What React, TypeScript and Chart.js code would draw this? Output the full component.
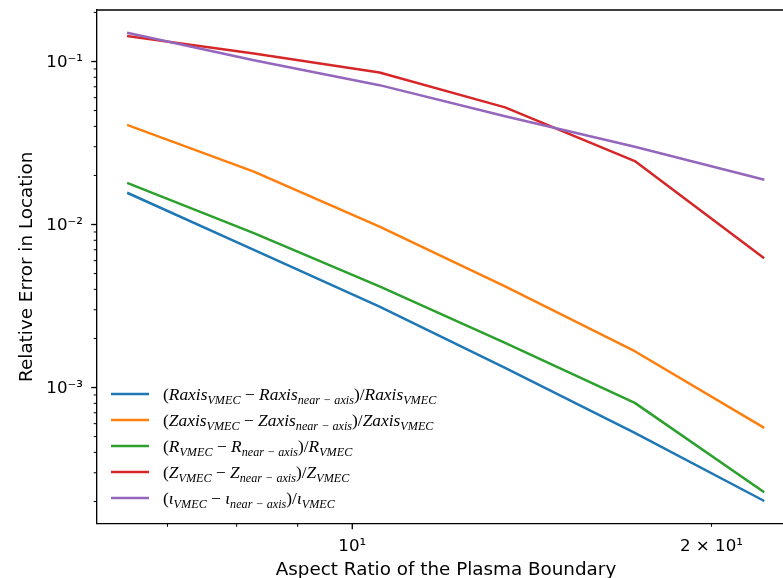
import React, { useEffect, useRef } from 'react';
import { Chart, registerables } from 'chart.js';
Chart.register(...registerables);

// ---------- data ----------
const aspectRatios = [6.49, 8.27, 10.54, 13.43, 17.25, 22.1];
const raxisErr = [0.01555, 0.00699, 0.00314, 0.00132, 0.000527, 0.000203];
const zaxisErr = [0.0406, 0.0211, 0.00971, 0.00417, 0.00167, 0.000571];
const rErr = [0.0179, 0.00885, 0.00417, 0.00188, 0.000805, 0.00023];
const zErr = [0.1429, 0.1119, 0.0856, 0.0523, 0.0245, 0.00627];
const iotaErr = [0.1496, 0.1018, 0.0716, 0.0462, 0.03, 0.0189];

const seriesValues = [raxisErr, zaxisErr, rErr, zErr, iotaErr];
const seriesColors = ['#1f77b4', '#ff7f0e', '#2ca02c', '#d62728', '#9467bd'];

// legend labels: [text, kind] kind: n = upright, i = italic, s = subscript
type Seg = [string, 'n' | 'i' | 's'];
const legendLabels: Seg[][] = [
  [['(', 'n'], ['Raxis', 'i'], ['VMEC', 's'], [' − ', 'n'], ['Raxis', 'i'], ['near − axis', 's'], [')/', 'n'], ['Raxis', 'i'], ['VMEC', 's']],
  [['(', 'n'], ['Zaxis', 'i'], ['VMEC', 's'], [' − ', 'n'], ['Zaxis', 'i'], ['near − axis', 's'], [')/', 'n'], ['Zaxis', 'i'], ['VMEC', 's']],
  [['(', 'n'], ['R', 'i'], ['VMEC', 's'], [' − ', 'n'], ['R', 'i'], ['near − axis', 's'], [')/', 'n'], ['R', 'i'], ['VMEC', 's']],
  [['(', 'n'], ['Z', 'i'], ['VMEC', 's'], [' − ', 'n'], ['Z', 'i'], ['near − axis', 's'], [')/', 'n'], ['Z', 'i'], ['VMEC', 's']],
  [['(', 'n'], ['ι', 'i'], ['VMEC', 's'], [' − ', 'n'], ['ι', 'i'], ['near − axis', 's'], [')/', 'n'], ['ι', 'i'], ['VMEC', 's']],
];

const xAxisTitle = 'Aspect Ratio of the Plasma Boundary';
const yAxisTitle = 'Relative Error in Location';

const xTickValues = [10, 20];
const xTickLabels = ['10¹', '2 × 10¹'];
const xMajorTicks = [10];
const yTickValues = [0.001, 0.01, 0.1];
const yTickLabels = ['10⁻³', '10⁻²', '10⁻¹'];

const X_MIN = 6.11;
const X_MAX = 23.5;
const Y_MIN = 1.465e-4;
const Y_MAX = 0.207;

const minorMultipliers = [2, 3, 4, 5, 6, 7, 8, 9];
const decades = [-4, -3, -2, -1, 0, 1];

const TICK_FONT = 16.67;
const LABEL_FONT = 18.33;
const LEGEND_FONT = 17.4;

const axisDecor = {
  id: 'axisDecor',
  afterDraw(chart: any) {
    const { ctx, chartArea, scales } = chart;
    const xs = scales.x;
    const ys = scales.y;
    ctx.save();
    ctx.strokeStyle = '#000';
    ctx.lineWidth = 1.33;
    ctx.beginPath();
    ctx.moveTo(chartArea.left, chartArea.top);
    ctx.lineTo(chartArea.right, chartArea.top);
    ctx.lineTo(chartArea.right, chartArea.bottom);
    ctx.stroke();

    const drawY = (v: number, len: number, w: number) => {
      if (v < Y_MIN || v > Y_MAX) return;
      const py = ys.getPixelForValue(v);
      ctx.lineWidth = w;
      ctx.beginPath();
      ctx.moveTo(chartArea.left - len, py);
      ctx.lineTo(chartArea.left, py);
      ctx.stroke();
    };
    const drawX = (v: number, len: number, w: number) => {
      if (v < X_MIN || v > X_MAX) return;
      const px = xs.getPixelForValue(v);
      ctx.lineWidth = w;
      ctx.beginPath();
      ctx.moveTo(px, chartArea.bottom);
      ctx.lineTo(px, chartArea.bottom + len);
      ctx.stroke();
    };
    for (const d of decades) {
      const base = Math.pow(10, d);
      drawY(base, 5.8, 1.33);
      drawX(base, 5.8, 1.33);
      for (const m of minorMultipliers) {
        drawY(m * base, 3.3, 1);
        drawX(m * base, 3.3, 1);
      }
    }
    ctx.restore();
  },
};

const richLegend = {
  id: 'richLegend',
  afterDatasetsDraw(chart: any) {
    const { ctx, chartArea } = chart;
    ctx.save();
    const x0 = chartArea.left + 14;
    const lineLen = 38;
    const textX = chartArea.left + 66;
    const firstY = chartArea.bottom - 129.5;
    const rowGap = 26;
    legendLabels.forEach((segs, i) => {
      const cy = firstY + i * rowGap;
      ctx.strokeStyle = seriesColors[i];
      ctx.lineWidth = 2.5;
      ctx.lineCap = 'butt';
      ctx.beginPath();
      ctx.moveTo(x0, cy);
      ctx.lineTo(x0 + lineLen, cy);
      ctx.stroke();
      let x = textX;
      const baseY = cy + 6;
      ctx.fillStyle = '#000';
      ctx.textBaseline = 'alphabetic';
      ctx.textAlign = 'left';
      for (const [t, kind] of segs) {
        let font: string;
        let y = baseY;
        if (kind === 's') {
          font = `italic ${LEGEND_FONT * 0.7}px "Liberation Serif"`;
          y = baseY + 3.5;
        } else if (kind === 'i') {
          font = `italic ${LEGEND_FONT}px "Liberation Serif"`;
        } else {
          font = `${LEGEND_FONT}px "Liberation Serif"`;
        }
        ctx.font = font;
        ctx.fillText(t, x, y);
        x += ctx.measureText(t).width;
      }
    });
    ctx.restore();
  },
};

export default function App() {
  const ref = useRef<HTMLCanvasElement | null>(null);
  useEffect(() => {
    document.body.style.margin = '0';
    document.body.style.overflow = 'hidden';
    const canvas = ref.current;
    if (!canvas) return;
    const datasets = seriesValues.map((vals, i) => ({
      label: `series ${i}`,
      data: aspectRatios.map((x, j) => ({ x, y: vals[j] })),
      borderColor: seriesColors[i],
      backgroundColor: seriesColors[i],
      borderWidth: 2.5,
      pointRadius: 0,
      borderJoinStyle: 'round' as const,
      borderCapStyle: 'square' as const,
      fill: false,
      tension: 0,
      order: seriesValues.length - i,
    }));
    const chart = new Chart(canvas, {
      type: 'line',
      data: { datasets },
      plugins: [axisDecor, richLegend],
      options: {
        animation: false,
        responsive: false,
        devicePixelRatio: 1,
        layout: { padding: { left: 0, top: 10, right: 15, bottom: 0 } },
        plugins: { legend: { display: false }, tooltip: { enabled: false } },
        scales: {
          x: {
            type: 'logarithmic',
            min: X_MIN,
            max: X_MAX,
            afterFit: (s: any) => {
              s.height = 54.5;
              s.paddingLeft = 0;
              s.paddingRight = 0;
            },
            afterBuildTicks: (s: any) => {
              s.ticks = xTickValues.map((v) => ({ value: v, major: xMajorTicks.includes(v) }));
            },
            ticks: {
              autoSkip: false,
              maxRotation: 0,
              padding: 13.5,
              color: '#000',
              font: { family: '"DejaVu Sans"', size: TICK_FONT },
              callback: (v: any) => {
                const idx = xTickValues.indexOf(Number(v));
                return idx >= 0 ? xTickLabels[idx] : '';
              },
            },
            grid: { display: true, drawOnChartArea: false, drawTicks: false },
            border: { display: true, color: '#000', width: 1.33 },
            title: {
              display: true,
              text: xAxisTitle,
              color: '#000',
              font: { family: '"DejaVu Sans"', size: LABEL_FONT, lineHeight: 1.2 },
              padding: { top: 0, bottom: -3.3 },
            },
          },
          y: {
            type: 'logarithmic',
            min: Y_MIN,
            max: Y_MAX,
            afterFit: (s: any) => {
              s.width = 97;
              s.paddingTop = 0;
              s.paddingBottom = 0;
            },
            afterBuildTicks: (s: any) => {
              s.ticks = yTickValues.map((v) => ({ value: v, major: true }));
            },
            ticks: {
              autoSkip: false,
              padding: 14,
              labelOffset: 1.5,
              color: '#000',
              font: { family: '"DejaVu Sans"', size: TICK_FONT },
              callback: (v: any) => {
                const idx = yTickValues.findIndex((t) => Math.abs(t - Number(v)) / t < 1e-6);
                return idx >= 0 ? yTickLabels[idx] : '';
              },
            },
            grid: { display: true, drawOnChartArea: false, drawTicks: false },
            border: { display: true, color: '#000', width: 1.33 },
            title: {
              display: true,
              text: yAxisTitle,
              color: '#000',
              font: { family: '"DejaVu Sans"', size: LABEL_FONT, lineHeight: 1.2 },
              padding: { top: 16.3, bottom: 0 },
            },
          },
        },
      },
    });
    return () => chart.destroy();
  }, []);
  return (
    <div style={{ width: 810, height: 578, position: 'relative' }}>
      <canvas ref={ref} width={810} height={578} style={{ width: 810, height: 578, display: 'block' }} />
    </div>
  );
}
